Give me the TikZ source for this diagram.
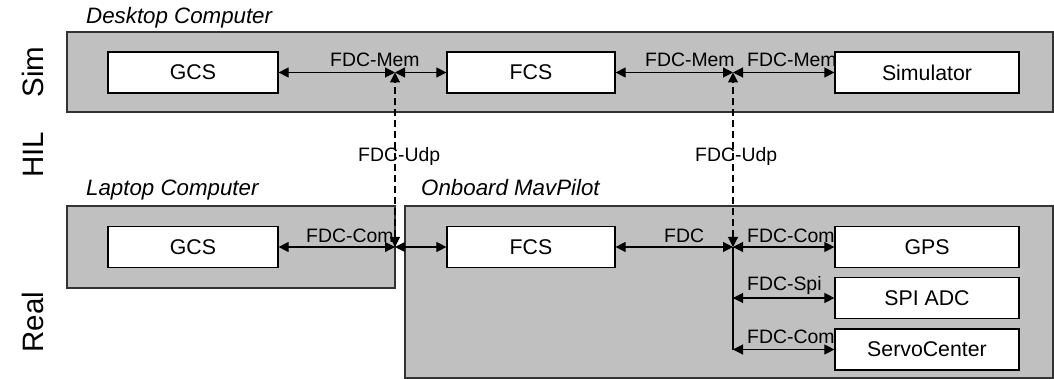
\documentclass[tikz,border=0pt]{standalone}
\usepackage{fontspec}
\setmainfont{Liberation Sans}
\usetikzlibrary{arrows.meta}
\begin{document}
\begin{tikzpicture}[x=1pt,y=-1pt,
  grp/.style={draw=black!80,fill={rgb,255:red,192;green,192;blue,192},line width=1.4pt},
  blk/.style={draw=black,fill=white,line width=1.2pt,inner sep=0pt,font=\fontsize{21.3}{21.3}\selectfont},
  lbl/.style={font=\fontsize{19.4}{19.4}\selectfont,inner sep=0pt,anchor=base west},
  grplbl/.style={font=\fontsize{22.3}{22.3}\selectfont\itshape,inner sep=0pt,anchor=base west},
  side/.style={font=\fontsize{29.5}{29.5}\selectfont,rotate=90,inner sep=0pt},
  conn/.style={line width=1.1pt,{Triangle[length=10pt,width=10pt]}-{Triangle[length=10pt,width=10pt]}},
  udp/.style={conn,dash pattern=on 7pt off 4pt}]
\useasboundingbox (0,0) rectangle (1054,379);
% group boxes
\draw[grp] (67,32) rectangle (1053,112);
\draw[grp] (67,206) rectangle (395,288);
\draw[grp] (405,206) rectangle (1053,378);
% group labels
\node[grplbl] (ldesk) at (86,24) {Desktop Computer};
\node[grplbl] (llap) at (86,196) {Laptop Computer};
\node[grplbl] (lonb) at (421,196) {Onboard MavPilot};
% side labels
\node[side] (sim) at (33,72) {Sim};
\node[side] (hil) at (33,155) {HIL};
\node[side] (real) at (33,322) {Real};
% blocks
\node[blk,minimum width=170pt,minimum height=41pt] (gcs1) at (193,72.5) {GCS};
\node[blk,minimum width=168pt,minimum height=41pt] (fcs1) at (531,72.5) {FCS};
\node[blk,minimum width=184pt,minimum height=41pt] (sim1) at (927,72.5) {Simulator};
\node[blk,minimum width=170pt,minimum height=41pt] (gcs2) at (193,247) {GCS};
\node[blk,minimum width=168pt,minimum height=41pt] (fcs2) at (531,247) {FCS};
\node[blk,minimum width=184pt,minimum height=41pt] (gps) at (927,247) {GPS};
\node[blk,minimum width=184pt,minimum height=41pt] (adc) at (927,298) {SPI ADC};
\node[blk,minimum width=184pt,minimum height=41pt] (servo) at (927,349.5) {ServoCenter};
% junctions
\coordinate (j1) at (395,72.5);
\coordinate (j2) at (733,72.5);
\coordinate (j3) at (395,247);
\coordinate (j4) at (733,247);
\coordinate (k1) at (733,298);
\coordinate (k2) at (733,349.5);
% connectors
\draw[conn] (gcs1.east) -- (j1);
\draw[conn] (j1) -- (fcs1.west);
\draw[conn] (fcs1.east) -- (j2);
\draw[conn] (j2) -- (sim1.west);
\draw[conn] (gcs2.east) -- (j3);
\draw[conn] (j3) -- (fcs2.west);
\draw[conn] (fcs2.east) -- (j4);
\draw[conn] (j4) -- (gps.west);
\draw[line width=1.1pt] (j4) -- (k2);
\draw[conn,-{Triangle[length=10pt,width=10pt]}] (k1) -- (adc.west);
\draw[conn,-{Triangle[length=10pt,width=10pt]}] (k2) -- (servo.west);
\draw[conn,{Triangle[length=10pt,width=10pt]}-] (k1) -- ++(1,0);
\draw[conn,{Triangle[length=10pt,width=10pt]}-] (k2) -- ++(1,0);
\draw[udp] (j3) -- (j1);
\draw[udp] (j4) -- (j2);
% labels
\node[lbl] (m1) at (330,67) {FDC-Mem};
\node[lbl] (m2) at (645,67) {FDC-Mem};
\node[lbl] (m3) at (747,67) {FDC-Mem};
\node[lbl] (u1) at (358,162) {FDC-Udp};
\node[lbl] (u2) at (695,162) {FDC-Udp};
\node[lbl] (c1) at (306,243) {FDC-Com};
\node[lbl] (c0) at (664,243) {FDC};
\node[lbl] (c2) at (747,243) {FDC-Com};
\node[lbl] (s1) at (747,290) {FDC-Spi};
\node[lbl] (c3) at (747,343) {FDC-Com};
\end{tikzpicture}
\end{document}
